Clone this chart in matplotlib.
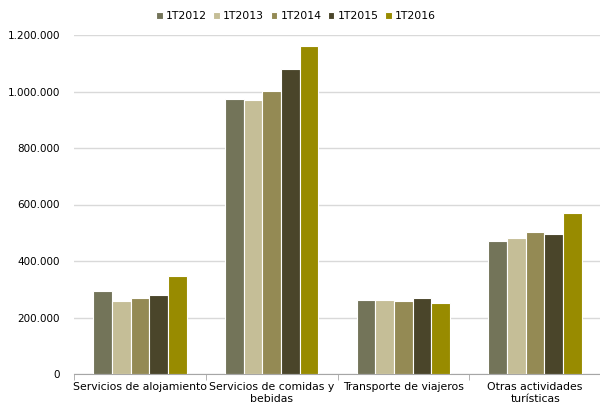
import matplotlib
matplotlib.use("Agg")
import matplotlib.pyplot as plt
import numpy as np
from matplotlib.ticker import FuncFormatter

categories = ["Servicios de alojamiento", "Servicios de comidas y\nbebidas",
              "Transporte de viajeros", "Otras actividades\nturísticas"]
series = ["1T2012", "1T2013", "1T2014", "1T2015", "1T2016"]
v2012 = [294000, 973000, 261000, 471000]
v2013 = [258000, 970000, 261000, 482000]
v2014 = [269000, 1002000, 258000, 503000]
v2015 = [280000, 1080000, 268000, 496000]
v2016 = [347000, 1161000, 251000, 569000]
values = [v2012, v2013, v2014, v2015, v2016]
colors = ["#737459", "#C5BE97", "#948A54", "#4A452A", "#988B00"]
yticks = [0, 200000, 400000, 600000, 800000, 1000000, 1200000]

plt.rcParams['font.family'] = ['DejaVu Sans']
fig = plt.figure(figsize=(6, 4.07), dpi=100)
ax = fig.add_axes([74/600, 33/407, 527/600, 339/407])

x = np.arange(len(categories))
n = len(series)
group_w = 0.71
bw = group_w / n
for i, (s, vals, c) in enumerate(zip(series, values, colors)):
    ax.bar(x - group_w/2 + bw*(i+0.5), vals, width=bw, color=c,
           edgecolor="white", linewidth=0.8, label=s, zorder=3)

ax.set_xlim(-0.5, len(categories)-0.5)
ax.set_ylim(0, 1200000)
ax.set_yticks(yticks)
ax.yaxis.set_major_formatter(FuncFormatter(lambda v, p: f"{int(v):,}".replace(",", ".")))
ax.grid(axis="y", color="#D9D9D9", linewidth=1, zorder=0)
ax.tick_params(axis="y", length=0, labelsize=7.5, pad=10, colors="black")
ax.set_xticks(x)
ax.set_xticklabels(categories, fontsize=7.8, linespacing=1.15)
ax.set_xticks(np.arange(len(categories)+1) - 0.5, minor=True)
ax.tick_params(axis="x", which="major", length=0, pad=6)
ax.tick_params(axis="x", which="minor", length=4, color="#A6A6A6", direction="out")
for sp in ["top", "right", "left"]:
    ax.spines[sp].set_visible(False)
ax.spines["bottom"].set_color("#A6A6A6")

leg = fig.legend(loc="center", bbox_to_anchor=(296/600, 1 - 16/407), ncol=5, frameon=False,
                 fontsize=7.8, handlelength=0.6, handleheight=0.6, handletextpad=0.3,
                 columnspacing=0.6)

fig.savefig("out.png", dpi=100)
